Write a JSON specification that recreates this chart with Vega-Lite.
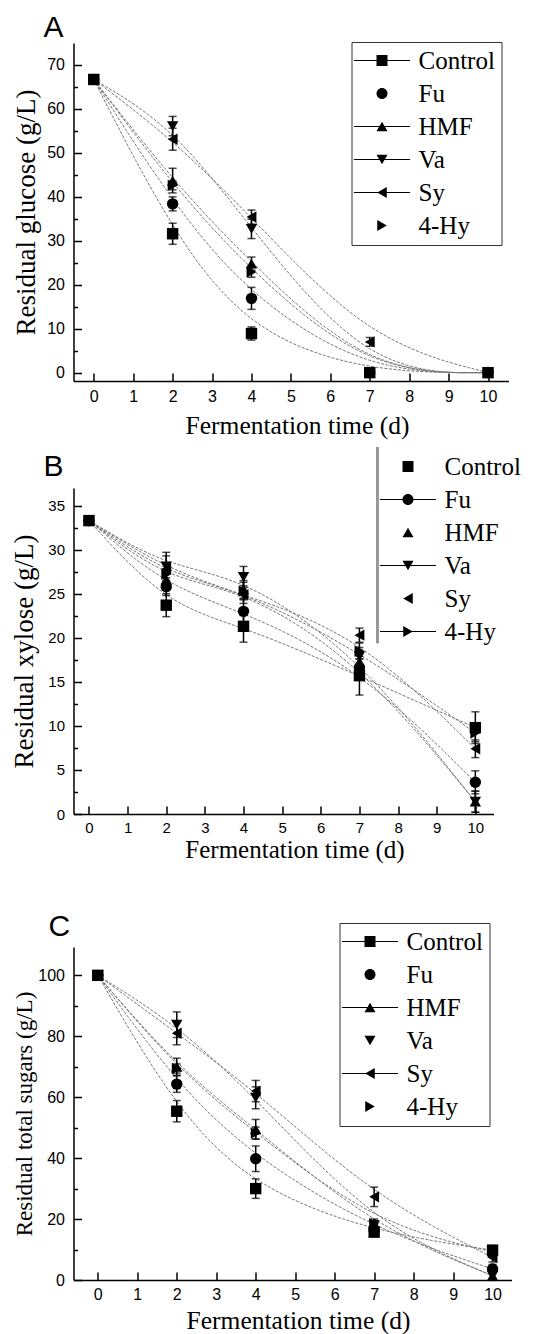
{
"$schema": "https://vega.github.io/schema/vega-lite/v6.json",
"padding": {"left": 10.5, "top": 12, "right": 0, "bottom": 0},
"config": {
  "view": {"stroke": null},
  "font": "Liberation Sans",
  "axis": {"domainColor": "black", "domainWidth": 1.5, "tickColor": "black", "tickWidth": 1.5, "labelFont": "Liberation Sans", "labelFontSize": 16, "labelColor": "black", "titleFont": "Liberation Serif", "titleFontSize": 25.5, "titleFontWeight": "normal", "titleColor": "black", "grid": false, "labelFlush": false, "labelOverlap": false},
  "legend": {"title": null, "orient": "none", "labelFont": "Liberation Serif", "labelFontSize": 25, "labelColor": "black", "labelLimit": 0, "symbolSize": 121, "symbolFillColor": "black", "symbolOpacity": 1, "rowPadding": 7, "padding": 6, "strokeColor": "#333", "strokeWidth": 1, "symbolOffset": 12, "labelOffset": 24},
  "title": {"anchor": "start", "frame": "group", "baseline": "alphabetic", "font": "Liberation Sans", "fontSize": 30, "fontWeight": "normal", "color": "black"}
},
"datasets": {
  "dA": [
    {"t": 0, "s": "Control", "v": 66.7, "e": 0}, {"t": 0, "s": "Fu", "v": 66.7, "e": 0}, {"t": 0, "s": "HMF", "v": 66.7, "e": 0}, {"t": 0, "s": "Va", "v": 66.7, "e": 0}, {"t": 0, "s": "Sy", "v": 66.7, "e": 0}, {"t": 0, "s": "4-Hy", "v": 66.7, "e": 0},
    {"t": 2, "s": "Control", "v": 31.6, "e": 2.4}, {"t": 2, "s": "Fu", "v": 38.4, "e": 1.6}, {"t": 2, "s": "HMF", "v": 43.7, "e": 2.8}, {"t": 2, "s": "Va", "v": 56.1, "e": 2.2}, {"t": 2, "s": "Sy", "v": 53.1, "e": 2.5}, {"t": 2, "s": "4-Hy", "v": 42.6, "e": 1.0},
    {"t": 4, "s": "Control", "v": 8.9, "e": 1.5}, {"t": 4, "s": "Fu", "v": 16.9, "e": 2.5}, {"t": 4, "s": "HMF", "v": 24.8, "e": 1.5}, {"t": 4, "s": "Va", "v": 32.7, "e": 2.2}, {"t": 4, "s": "Sy", "v": 35.4, "e": 1.6}, {"t": 4, "s": "4-Hy", "v": 22.9, "e": 1.2},
    {"t": 7, "s": "Control", "v": 0, "e": 0}, {"t": 7, "s": "Fu", "v": 0, "e": 0}, {"t": 7, "s": "HMF", "v": 0, "e": 0}, {"t": 7, "s": "Va", "v": 0, "e": 0}, {"t": 7, "s": "Sy", "v": 7.0, "e": 1.0}, {"t": 7, "s": "4-Hy", "v": 0, "e": 0},
    {"t": 10, "s": "Control", "v": 0, "e": 0}, {"t": 10, "s": "Fu", "v": 0, "e": 0}, {"t": 10, "s": "HMF", "v": 0, "e": 0}, {"t": 10, "s": "Va", "v": 0, "e": 0}, {"t": 10, "s": "Sy", "v": 0, "e": 0}, {"t": 10, "s": "4-Hy", "v": 0, "e": 0}
  ],
  "dB": [
    {"t": 0, "s": "Control", "v": 33.3, "e": 0}, {"t": 0, "s": "Fu", "v": 33.3, "e": 0}, {"t": 0, "s": "HMF", "v": 33.3, "e": 0}, {"t": 0, "s": "Va", "v": 33.3, "e": 0}, {"t": 0, "s": "Sy", "v": 33.3, "e": 0}, {"t": 0, "s": "4-Hy", "v": 33.3, "e": 0},
    {"t": 2, "s": "Control", "v": 23.7, "e": 1.3}, {"t": 2, "s": "Fu", "v": 25.8, "e": 1.0}, {"t": 2, "s": "HMF", "v": 26.6, "e": 1.2}, {"t": 2, "s": "Va", "v": 28.1, "e": 1.6}, {"t": 2, "s": "Sy", "v": 27.8, "e": 1.5}, {"t": 2, "s": "4-Hy", "v": 27.2, "e": 1.2},
    {"t": 4, "s": "Control", "v": 21.3, "e": 1.8}, {"t": 4, "s": "Fu", "v": 23.0, "e": 1.4}, {"t": 4, "s": "HMF", "v": 25.5, "e": 1.0}, {"t": 4, "s": "Va", "v": 26.9, "e": 1.2}, {"t": 4, "s": "Sy", "v": 24.9, "e": 1.0}, {"t": 4, "s": "4-Hy", "v": 25.3, "e": 1.0},
    {"t": 7, "s": "Control", "v": 15.7, "e": 2.2}, {"t": 7, "s": "Fu", "v": 16.6, "e": 1.0}, {"t": 7, "s": "HMF", "v": 17.3, "e": 1.0}, {"t": 7, "s": "Va", "v": 17.9, "e": 1.0}, {"t": 7, "s": "Sy", "v": 20.3, "e": 0.8}, {"t": 7, "s": "4-Hy", "v": 18.5, "e": 0.9},
    {"t": 10, "s": "Control", "v": 9.8, "e": 1.8}, {"t": 10, "s": "Fu", "v": 3.6, "e": 1.3}, {"t": 10, "s": "HMF", "v": 1.4, "e": 1.2}, {"t": 10, "s": "Va", "v": 1.4, "e": 1.2}, {"t": 10, "s": "Sy", "v": 7.4, "e": 1.0}, {"t": 10, "s": "4-Hy", "v": 9.2, "e": 1.0}
  ],
  "dC": [
    {"t": 0, "s": "Control", "v": 100, "e": 0}, {"t": 0, "s": "Fu", "v": 100, "e": 0}, {"t": 0, "s": "HMF", "v": 100, "e": 0}, {"t": 0, "s": "Va", "v": 100, "e": 0}, {"t": 0, "s": "Sy", "v": 100, "e": 0}, {"t": 0, "s": "4-Hy", "v": 100, "e": 0},
    {"t": 2, "s": "Control", "v": 55.4, "e": 3.5}, {"t": 2, "s": "Fu", "v": 64.3, "e": 2.7}, {"t": 2, "s": "HMF", "v": 70.0, "e": 2.8}, {"t": 2, "s": "Va", "v": 83.8, "e": 4.2}, {"t": 2, "s": "Sy", "v": 81.0, "e": 3.8}, {"t": 2, "s": "4-Hy", "v": 69.4, "e": 1.5},
    {"t": 4, "s": "Control", "v": 30.0, "e": 3.2}, {"t": 4, "s": "Fu", "v": 39.8, "e": 4.2}, {"t": 4, "s": "HMF", "v": 49.5, "e": 3.2}, {"t": 4, "s": "Va", "v": 59.8, "e": 3.6}, {"t": 4, "s": "Sy", "v": 62.0, "e": 3.5}, {"t": 4, "s": "4-Hy", "v": 48.2, "e": 2.0},
    {"t": 7, "s": "Control", "v": 15.7, "e": 1.2}, {"t": 7, "s": "Fu", "v": 16.6, "e": 1.5}, {"t": 7, "s": "HMF", "v": 17.4, "e": 1.5}, {"t": 7, "s": "Va", "v": 18.0, "e": 1.5}, {"t": 7, "s": "Sy", "v": 27.3, "e": 3.2}, {"t": 7, "s": "4-Hy", "v": 18.5, "e": 1.5},
    {"t": 10, "s": "Control", "v": 9.8, "e": 1.5}, {"t": 10, "s": "Fu", "v": 3.6, "e": 1.5}, {"t": 10, "s": "HMF", "v": 1.4, "e": 1.5}, {"t": 10, "s": "Va", "v": 1.4, "e": 1.5}, {"t": 10, "s": "Sy", "v": 7.4, "e": 1.5}, {"t": 10, "s": "4-Hy", "v": 9.2, "e": 1.5}
  ]
},
"columns": 1,
"spacing": 7,
"resolve": {"scale": {"shape": "independent"}, "legend": {"shape": "independent"}},
"concat": [
  {
    "width": 435, "height": 338,
    "title": {"text": "A", "dx": -30, "offset": -1},
    "data": {"name": "dA"},
    "resolve": {"scale": {"shape": "independent"}, "legend": {"shape": "independent"}},
    "encoding": {
      "x": {"field": "t", "type": "quantitative", "scale": {"domain": [-0.515, 10.52], "nice": false, "zero": false},
            "axis": {"values": [0,1,2,3,4,5,6,7,8,9,10], "tickSize": -8, "labelPadding": 15, "title": "Fermentation time (d)", "titleX": 223.5, "titleY": 52, "titleBaseline": "alphabetic", "titleAlign": "center"}},
      "y": {"field": "v", "type": "quantitative", "scale": {"domain": [-1.9, 75], "nice": false, "zero": false},
            "axis": {"values": [0,5,10,15,20,25,30,35,40,45,50,55,60,65,70], "labelExpr": "datum.value % 10 === 0 ? datum.label : ''", "tickSize": {"condition": {"test": "datum.value % 10 !== 0", "value": -4}, "value": -8}, "labelPadding": 17, "title": "Residual glucose (g/L)", "titleFontSize": 27, "titleX": -47, "titleBaseline": "middle"}}
    },
    "layer": [
      {"mark": {"type": "line", "interpolate": "basis", "color": "#777", "strokeWidth": 1, "strokeDash": [3, 1.5]}, "encoding": {"detail": {"field": "s"}}},
      {"transform": [{"filter": "datum.e > 0"}], "mark": {"type": "errorbar", "color": "black", "thickness": 1.5, "ticks": {"size": 8}}, "encoding": {"yError": {"field": "e"}}},
      {"mark": {"type": "point", "filled": true, "color": "black", "opacity": 1, "size": 130},
       "encoding": {"shape": {"field": "s", "type": "nominal", "legend": null,
         "scale": {"domain": ["Control", "Fu", "HMF", "Va", "Sy", "4-Hy"], "range": ["square", "circle", "triangle-up", "triangle-down", "triangle-left", "triangle-right"]}}}},
      {"transform": [{"filter": "false"}], "mark": {"type": "point", "filled": true, "color": "black", "opacity": 1},
       "encoding": {"shape": {"field": "s", "type": "nominal",
         "scale": {"domain": ["Control", "Fu", "HMF", "Va", "Sy", "4-Hy"], "range": [
           "M-5.1,-0.09H5.1V0.09H-5.1ZM-1,-1H1V1H-1Z",
           "M1,0A1,1,0,1,1,-1,0A1,1,0,1,1,1,0Z",
           "M-5.1,-0.09V0.09H5.1V-0.09ZM0,-0.866L-1,0.866L1,0.866Z",
           "M-5.1,-0.09H5.1V0.09H-5.1ZM0,0.866L-1,-0.866L1,-0.866Z",
           "M-5.1,-0.09H5.1V0.09H-5.1ZM-0.866,0L0.866,-1L0.866,1Z",
           "M0.866,0L-0.866,-1L-0.866,1Z"]},
         "legend": {"legendX": 278, "legendY": -1}}}}
    ]
  },
  {
    "columns": 1,
    "spacing": 49,
    "resolve": {"scale": {"shape": "independent"}, "legend": {"shape": "independent"}},
    "concat": [
      {
        "width": 420, "height": 326,
        "title": {"text": "B", "dx": -30, "offset": -35},
        "data": {"name": "dB"},
        "resolve": {"scale": {"shape": "independent"}, "legend": {"shape": "independent"}},
        "encoding": {
          "x": {"field": "t", "type": "quantitative", "scale": {"domain": [-0.4, 10.47], "nice": false, "zero": false},
                "axis": {"values": [0,1,2,3,4,5,6,7,8,9,10], "tickSize": -8, "labelPadding": 14, "labelFontSize": 15, "title": "Fermentation time (d)", "titleFontSize": 25, "titleX": 221, "titleY": 43, "titleBaseline": "alphabetic", "titleAlign": "center"}},
          "y": {"field": "v", "type": "quantitative", "scale": {"domain": [0, 37], "nice": false, "zero": false},
                "axis": {"values": [0,2.5,5,7.5,10,12.5,15,17.5,20,22.5,25,27.5,30,32.5,35], "labelExpr": "datum.value % 5 === 0 ? datum.label : ''", "tickSize": {"condition": {"test": "datum.value % 5 !== 0", "value": -4}, "value": -8}, "labelPadding": 17, "labelFontSize": 15, "title": "Residual xylose (g/L)", "titleFontSize": 27, "titleX": -49, "titleBaseline": "middle"}}
        },
        "layer": [
          {"mark": {"type": "line", "interpolate": "basis", "color": "#777", "strokeWidth": 1, "strokeDash": [3, 1.5]}, "encoding": {"detail": {"field": "s"}}},
          {"transform": [{"filter": "datum.e > 0"}], "mark": {"type": "errorbar", "color": "black", "thickness": 1.5, "ticks": {"size": 8}}, "encoding": {"yError": {"field": "e"}}},
          {"mark": {"type": "point", "filled": true, "color": "black", "opacity": 1, "size": 130},
           "encoding": {"shape": {"field": "s", "type": "nominal", "legend": null,
             "scale": {"domain": ["Control", "Fu", "HMF", "Va", "Sy", "4-Hy"], "range": ["square", "circle", "triangle-up", "triangle-down", "triangle-left", "triangle-right"]}}}},
          {"mark": {"type": "rule", "color": "#999", "strokeWidth": 1.5},
           "encoding": {"x": {"datum": 7.47}, "y": {"datum": 41.6}, "y2": {"datum": 19.4}}},
          {"transform": [{"filter": "false"}], "mark": {"type": "point", "filled": true, "color": "black", "opacity": 1},
           "encoding": {"shape": {"field": "s", "type": "nominal",
             "scale": {"domain": ["Control", "Fu", "HMF", "Va", "Sy", "4-Hy"], "range": [
               "M-1,-1H1V1H-1Z",
               "M-5.1,-0.09H5.1V0.09H-5.1ZM1,0A1,1,0,1,1,-1,0A1,1,0,1,1,1,0Z",
               "M0,-0.866L-1,0.866L1,0.866Z",
               "M-5.1,-0.09H5.1V0.09H-5.1ZM0,0.866L-1,-0.866L1,-0.866Z",
               "M-0.866,0L0.866,-1L0.866,1Z",
               "M-5.1,-0.09V0.09H5.1V-0.09ZM0.866,0L-0.866,-1L-0.866,1Z"]},
             "legend": {"legendX": 304, "legendY": -40, "strokeColor": "transparent"}}}}
        ]
      },
      {
        "width": 438, "height": 333,
        "title": {"text": "C", "dx": -25, "offset": -19},
        "data": {"name": "dC"},
        "resolve": {"scale": {"shape": "independent"}, "legend": {"shape": "independent"}},
        "encoding": {
          "x": {"field": "t", "type": "quantitative", "scale": {"domain": [-0.616, 10.48], "nice": false, "zero": false},
                "axis": {"values": [0,1,2,3,4,5,6,7,8,9,10], "tickSize": -8, "labelPadding": 14, "title": "Fermentation time (d)", "titleX": 224.5, "titleY": 48, "titleBaseline": "alphabetic", "titleAlign": "center"}},
          "y": {"field": "v", "type": "quantitative", "scale": {"domain": [0, 109.3], "nice": false, "zero": false},
                "axis": {"values": [0,10,20,30,40,50,60,70,80,90,100], "labelExpr": "datum.value % 20 === 0 ? datum.label : ''", "tickSize": {"condition": {"test": "datum.value % 20 !== 0", "value": -4}, "value": -8}, "labelPadding": 17, "title": "Residual total sugars (g/L)", "titleFontSize": 23, "titleX": -49, "titleBaseline": "middle"}}
        },
        "layer": [
          {"mark": {"type": "line", "interpolate": "basis", "color": "#777", "strokeWidth": 1, "strokeDash": [3, 1.5]}, "encoding": {"detail": {"field": "s"}}},
          {"transform": [{"filter": "datum.e > 0"}], "mark": {"type": "errorbar", "color": "black", "thickness": 1.5, "ticks": {"size": 8}}, "encoding": {"yError": {"field": "e"}}},
          {"mark": {"type": "point", "filled": true, "color": "black", "opacity": 1, "size": 130},
           "encoding": {"shape": {"field": "s", "type": "nominal", "legend": null,
             "scale": {"domain": ["Control", "Fu", "HMF", "Va", "Sy", "4-Hy"], "range": ["square", "circle", "triangle-up", "triangle-down", "triangle-left", "triangle-right"]}}}},
          {"transform": [{"filter": "false"}], "mark": {"type": "point", "filled": true, "color": "black", "opacity": 1},
           "encoding": {"shape": {"field": "s", "type": "nominal",
             "scale": {"domain": ["Control", "Fu", "HMF", "Va", "Sy", "4-Hy"], "range": [
               "M-5.1,-0.09H5.1V0.09H-5.1ZM-1,-1H1V1H-1Z",
               "M1,0A1,1,0,1,1,-1,0A1,1,0,1,1,1,0Z",
               "M-5.1,-0.09V0.09H5.1V-0.09ZM0,-0.866L-1,0.866L1,0.866Z",
               "M0,0.866L-1,-0.866L1,-0.866Z",
               "M-5.1,-0.09H5.1V0.09H-5.1ZM-0.866,0L0.866,-1L0.866,1Z",
               "M0.866,0L-0.866,-1L-0.866,1Z"]},
             "legend": {"legendX": 266, "legendY": -24}}}}
        ]
      }
    ]
  }
]
}
